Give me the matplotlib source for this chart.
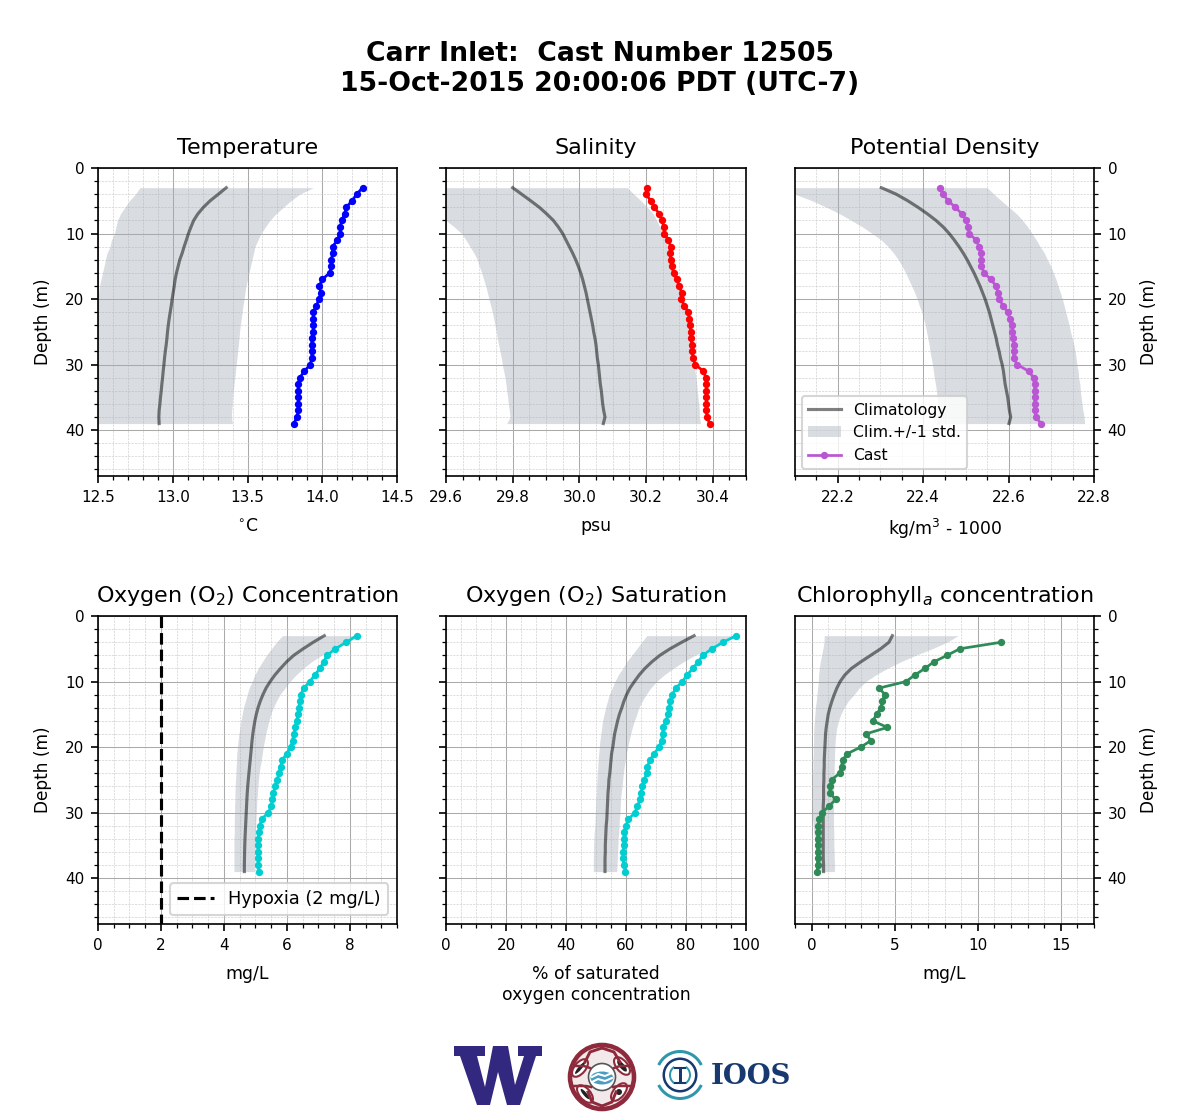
import matplotlib
matplotlib.use("Agg")
import matplotlib.pyplot as plt
from matplotlib.patches import Polygon, Circle, Wedge, Ellipse, Rectangle
from matplotlib.ticker import MultipleLocator

depth = [3, 4, 5, 6, 7, 8, 9, 10, 11, 12, 13, 14, 15, 16, 17, 18, 19, 20, 21,
         22, 23, 24, 25, 26, 27, 28, 29, 30, 31, 32, 33, 34, 35, 36, 37, 38, 39]

# temperature
temp_cast = [14.27, 14.23, 14.20, 14.16, 14.15, 14.13, 14.12, 14.12, 14.10, 14.07, 14.07, 14.06, 14.06,
             14.05, 14.00, 13.98, 13.99, 13.98, 13.96, 13.94, 13.94, 13.94, 13.94, 13.93, 13.93, 13.93,
             13.93, 13.92, 13.88, 13.85, 13.84, 13.84, 13.84, 13.84, 13.84, 13.83, 13.81]
temp_clim = [13.358, 13.305, 13.250, 13.205, 13.168, 13.140, 13.122, 13.105, 13.091, 13.076, 13.063, 13.047,
             13.036, 13.025, 13.016, 13.010, 13.003, 12.996, 12.990, 12.983, 12.976, 12.970, 12.965, 12.961,
             12.956, 12.950, 12.945, 12.941, 12.936, 12.932, 12.927, 12.923, 12.918, 12.914, 12.909, 12.907, 12.909]
temp_low = [12.78, 12.75, 12.71, 12.68, 12.65, 12.63, 12.62, 12.61, 12.59, 12.58, 12.56, 12.55, 12.54,
            12.53, 12.52, 12.51, 12.505, 12.50, 12.49, 12.49, 12.48, 12.48, 12.47, 12.47, 12.46, 12.46,
            12.45, 12.45, 12.44, 12.44, 12.43, 12.43, 12.42, 12.42, 12.42, 12.41, 12.41]
temp_high = [13.94, 13.85, 13.79, 13.74, 13.69, 13.65, 13.62, 13.59, 13.57, 13.55, 13.54, 13.53, 13.52,
             13.51, 13.50, 13.49, 13.483, 13.477, 13.47, 13.464, 13.458, 13.452, 13.447, 13.443, 13.439, 13.434,
             13.43, 13.424, 13.42, 13.415, 13.41, 13.405, 13.40, 13.398, 13.395, 13.392, 13.40]

# salinity
sal_cast = [30.204, 30.200, 30.214, 30.225, 30.240, 30.249, 30.253, 30.255, 30.267, 30.274, 30.273, 30.274,
            30.277, 30.283, 30.292, 30.300, 30.307, 30.306, 30.315, 30.327, 30.330, 30.332, 30.334, 30.335,
            30.338, 30.339, 30.341, 30.348, 30.372, 30.380, 30.381, 30.381, 30.381, 30.381, 30.381, 30.383, 30.391]
sal_clim = [29.800, 29.827, 29.854, 29.880, 29.902, 29.922, 29.937, 29.950, 29.960, 29.970, 29.980, 29.989,
            29.997, 30.004, 30.010, 30.015, 30.020, 30.024, 30.028, 30.032, 30.036, 30.040, 30.043, 30.047,
            30.050, 30.052, 30.054, 30.057, 30.059, 30.061, 30.063, 30.066, 30.068, 30.070, 30.073, 30.077, 30.072]
sal_low = [29.40, 29.45, 29.50, 29.54, 29.57, 29.60, 29.625, 29.647, 29.660, 29.672, 29.684, 29.694, 29.700,
           29.707, 29.713, 29.719, 29.724, 29.729, 29.734, 29.739, 29.743, 29.747, 29.751, 29.754, 29.758,
           29.762, 29.766, 29.769, 29.773, 29.777, 29.780, 29.782, 29.785, 29.787, 29.790, 29.792, 29.782]
sal_high = [30.144, 30.164, 30.185, 30.204, 30.222, 30.232, 30.242, 30.250, 30.258, 30.265, 30.272, 30.278,
            30.284, 30.290, 30.296, 30.301, 30.306, 30.311, 30.315, 30.319, 30.323, 30.327, 30.330, 30.333,
            30.336, 30.339, 30.342, 30.344, 30.347, 30.350, 30.352, 30.354, 30.356, 30.358, 30.360, 30.360, 30.364]

# potential density
dens_cast = [22.440, 22.446, 22.459, 22.475, 22.491, 22.501, 22.505, 22.508, 22.524, 22.531, 22.535, 22.536,
             22.536, 22.543, 22.558, 22.571, 22.575, 22.578, 22.587, 22.598, 22.603, 22.607, 22.609, 22.611,
             22.612, 22.612, 22.612, 22.620, 22.647, 22.659, 22.661, 22.661, 22.661, 22.661, 22.661, 22.664, 22.676]
dens_clim = [22.302, 22.337, 22.364, 22.388, 22.410, 22.430, 22.447, 22.461, 22.473, 22.484, 22.494, 22.503,
             22.511, 22.519, 22.526, 22.533, 22.539, 22.545, 22.550, 22.555, 22.559, 22.563, 22.567, 22.571,
             22.574, 22.578, 22.581, 22.585, 22.588, 22.590, 22.592, 22.595, 22.598, 22.600, 22.602, 22.605, 22.601]
dens_low = [22.08, 22.10, 22.14, 22.174, 22.205, 22.232, 22.258, 22.281, 22.302, 22.318, 22.331, 22.342,
            22.351, 22.359, 22.366, 22.373, 22.380, 22.386, 22.391, 22.397, 22.401, 22.405, 22.408, 22.411,
            22.414, 22.416, 22.419, 22.422, 22.424, 22.426, 22.429, 22.431, 22.433, 22.435, 22.436, 22.438, 22.430]
dens_high = [22.550, 22.566, 22.583, 22.601, 22.619, 22.633, 22.645, 22.655, 22.665, 22.674, 22.684, 22.691,
             22.699, 22.705, 22.711, 22.716, 22.721, 22.726, 22.730, 22.734, 22.738, 22.742, 22.745, 22.749,
             22.753, 22.756, 22.758, 22.760, 22.763, 22.764, 22.767, 22.768, 22.770, 22.772, 22.774, 22.777, 22.778]

# oxygen concentration
oxy_cast = [8.22, 7.89, 7.54, 7.28, 7.17, 7.05, 6.89, 6.73, 6.54, 6.44, 6.41, 6.38, 6.36, 6.31, 6.27, 6.22,
            6.18, 6.13, 5.99, 5.86, 5.80, 5.75, 5.69, 5.63, 5.57, 5.54, 5.51, 5.41, 5.20, 5.14, 5.11, 5.09,
            5.08, 5.08, 5.08, 5.09, 5.11]
oxy_clim = [7.19, 6.84, 6.52, 6.22, 5.99, 5.80, 5.62, 5.47, 5.34, 5.24, 5.155, 5.085, 5.03, 4.985, 4.95, 4.92,
            4.895, 4.875, 4.855, 4.835, 4.815, 4.795, 4.775, 4.757, 4.742, 4.73, 4.72, 4.71, 4.70, 4.69, 4.68, 4.67,
            4.663, 4.658, 4.654, 4.65, 4.65]
oxy_low = [5.86, 5.67, 5.51, 5.35, 5.22, 5.09, 4.98, 4.90, 4.80, 4.74, 4.68, 4.62, 4.58, 4.54, 4.51, 4.48,
           4.45, 4.43, 4.41, 4.40, 4.39, 4.38, 4.37, 4.36, 4.35, 4.35, 4.34, 4.34, 4.33, 4.33, 4.33, 4.32,
           4.32, 4.32, 4.32, 4.32, 4.32]
oxy_high = [8.42, 7.89, 7.47, 7.10, 6.78, 6.52, 6.29, 6.10, 5.94, 5.78, 5.67, 5.57, 5.49, 5.43, 5.38, 5.33,
            5.29, 5.25, 5.22, 5.19, 5.15, 5.12, 5.10, 5.08, 5.07, 5.05, 5.04, 5.03, 5.02, 5.01, 5.00, 5.00,
            4.99, 4.98, 4.98, 4.97, 4.97]

# oxygen saturation
sat_cast = [96.7, 92.4, 88.6, 85.6, 84.1, 82.2, 80.4, 78.8, 76.6, 75.4, 74.8, 74.4, 74.1, 73.3, 72.4, 72.2,
            71.9, 71.0, 69.4, 68.0, 67.1, 66.9, 66.1, 65.4, 65.1, 64.7, 63.8, 63.0, 60.8, 60.0, 59.4, 59.3,
            59.2, 59.1, 59.1, 59.2, 59.8]
sat_clim = [82.7, 78.6, 74.7, 71.3, 68.6, 66.3, 64.4, 62.8, 61.3, 60.2, 59.3, 58.6, 57.8, 57.2, 56.7, 56.2,
            55.9, 55.6, 55.2, 55.0, 54.8, 54.6, 54.3, 54.2, 54.0, 53.9, 53.8, 53.7, 53.6, 53.4, 53.3, 53.2,
            53.1, 53.1, 53.0, 53.0, 53.0]
sat_low = [66.9, 65.2, 63.6, 61.9, 60.2, 58.9, 57.4, 56.3, 55.4, 54.4, 53.8, 53.2, 52.7, 52.2, 51.9, 51.6,
           51.3, 51.1, 50.9, 50.7, 50.6, 50.4, 50.3, 50.2, 50.1, 50.0, 49.9, 49.8, 49.7, 49.6, 49.4, 49.3,
           49.2, 49.2, 49.1, 49.1, 49.1]
sat_high = [98.0, 92.4, 88.0, 83.0, 79.1, 75.8, 72.7, 70.2, 68.2, 66.7, 65.4, 64.3, 63.6, 62.8, 62.1, 61.6,
            61.0, 60.6, 60.1, 59.8, 59.4, 59.1, 58.9, 58.7, 58.4, 58.2, 58.1, 58.0, 57.8, 57.7, 57.6, 57.4,
            57.3, 57.2, 57.1, 57.0, 56.9]

# chlorophyll, the cast has no reading at 3 m
chl_cast = [float("nan"), 11.42, 8.92, 8.16, 7.36, 6.82, 6.22, 5.68, 4.06, 4.42, 4.26, 4.16, 3.92, 3.68, 4.56, 3.26,
            3.58, 2.96, 2.16, 1.86, 1.80, 1.68, 1.20, 1.12, 1.10, 1.44, 1.06, 0.62, 0.46, 0.40, 0.36, 0.36,
            0.36, 0.36, 0.36, 0.36, 0.34]
chl_clim = [4.86, 4.66, 4.16, 3.56, 2.96, 2.40, 2.00, 1.72, 1.52, 1.36, 1.22, 1.10, 1.00, 0.94, 0.88, 0.84,
            0.82, 0.80, 0.78, 0.76, 0.76, 0.74, 0.74, 0.72, 0.72, 0.72, 0.70, 0.70, 0.70, 0.70, 0.70, 0.70,
            0.70, 0.70, 0.70, 0.72, 0.72]
chl_low = [0.76, 0.74, 0.68, 0.60, 0.52, 0.46, 0.42, 0.40, 0.36, 0.32, 0.28, 0.22, 0.20, 0.16, 0.14, 0.12,
           0.12, 0.10, 0.10, 0.08, 0.08, 0.06, 0.06, 0.06, 0.04, 0.04, 0.02, 0.02, 0.06, 0.10, 0.14, 0.18,
           0.20, 0.22, 0.24, 0.25, 0.25]
chl_high = [8.82, 8.16, 7.26, 6.26, 5.36, 4.56, 3.86, 3.26, 2.86, 2.56, 2.20, 1.96, 1.76, 1.62, 1.52, 1.46,
            1.42, 1.40, 1.38, 1.38, 1.36, 1.36, 1.34, 1.34, 1.32, 1.32, 1.32, 1.32, 1.32, 1.32, 1.34, 1.34,
            1.34, 1.36, 1.36, 1.38, 1.38]

W, H = 1200, 1120
plt.rcParams["font.family"] = "DejaVu Sans"
fig = plt.figure(figsize=(W / 150, H / 150), dpi=150)


def make_axes(left, top, right, bottom):
    return fig.add_axes([left / W, 1 - bottom / H, (right - left) / W, (bottom - top) / H])


def draw_panel(ax, cast, clim, low, high, color, title, xlabel, xlim, major, minor, side):
    ax.set_axisbelow(True)
    ax.fill_betweenx(depth, low, high, color="#a2aab4", alpha=0.4, lw=0, label="Clim.+/-1 std.")
    ax.plot(clim, depth, color="k", alpha=0.5, lw=1.5, label="Climatology")
    ax.plot(cast, depth, color=color, lw=1.3, marker="o", ms=2.5, label="Cast")
    ax.set_xlim(xlim)
    ax.set_ylim(47, 0)
    ax.xaxis.set_major_locator(MultipleLocator(major))
    ax.xaxis.set_minor_locator(MultipleLocator(minor))
    ax.yaxis.set_major_locator(MultipleLocator(10))
    ax.yaxis.set_minor_locator(MultipleLocator(2))
    ax.grid(which="major", color="#aaaaaa", lw=0.5)
    ax.grid(which="minor", color="#cccccc", lw=0.3, ls="--")
    ax.tick_params(which="major", labelsize=7.3, length=3.5, width=0.8, pad=3)
    ax.tick_params(which="minor", length=2, width=0.6)
    ax.set_title(title, fontsize=10.7, pad=6.5)
    ax.set_xlabel(xlabel, fontsize=8.3, labelpad=6)
    if side == "left":
        ax.set_ylabel("Depth (m)", fontsize=8.2, labelpad=6.5)
    elif side == "right":
        ax.yaxis.tick_right()
        ax.yaxis.set_label_position("right")
        ax.set_ylabel("Depth (m)", fontsize=8.2, labelpad=6.5)
    else:
        ax.tick_params(axis="y", which="both", labelleft=False)
    for s in ax.spines.values():
        s.set_linewidth(0.8)


fig.suptitle("Carr Inlet:  Cast Number 12505\n15-Oct-2015 20:00:06 PDT (UTC-7)",
             fontsize=12.8, fontweight="bold", x=0.5, y=0.9638, va="top")

ax1 = make_axes(98, 168, 397, 476)
draw_panel(ax1, temp_cast, temp_clim, temp_low, temp_high, "blue", "Temperature", r"$^{\circ}$C",
           (12.5, 14.5), 0.5, 0.1, "left")
ax2 = make_axes(446, 168, 746, 476)
draw_panel(ax2, sal_cast, sal_clim, sal_low, sal_high, "red", "Salinity", "psu",
           (29.6, 30.5), 0.2, 0.05, "none")
ax3 = make_axes(795, 168, 1094, 476)
draw_panel(ax3, dens_cast, dens_clim, dens_low, dens_high, "mediumorchid", "Potential Density",
           r"kg/m$^3$ - 1000", (22.1, 22.8), 0.2, 0.05, "right")
handles, labels = ax3.get_legend_handles_labels()
order = [labels.index(n) for n in ("Climatology", "Clim.+/-1 std.", "Cast")]
ax3.legend([handles[i] for i in order], [labels[i] for i in order], loc="lower left",
           fontsize=7.5, borderaxespad=0.42, handlelength=2.1)

ax4 = make_axes(98, 616, 397, 924)
draw_panel(ax4, oxy_cast, oxy_clim, oxy_low, oxy_high, "darkturquoise", r"Oxygen (O$_2$) Concentration", "mg/L",
           (0, 9.5), 2, 0.5, "left")
hyp, = ax4.plot([2, 2], [0, 47], color="k", ls="--", lw=1.5, label="Hypoxia (2 mg/L)")
ax4.legend(handles=[hyp], loc="lower right", fontsize=8.5, borderaxespad=0.5, handlelength=2.1)

ax5 = make_axes(446, 616, 746, 924)
draw_panel(ax5, sat_cast, sat_clim, sat_low, sat_high, "darkturquoise", r"Oxygen (O$_2$) Saturation",
           "% of saturated\noxygen concentration", (0, 100), 20, 5, "none")
ax6 = make_axes(795, 616, 1094, 924)
draw_panel(ax6, chl_cast, chl_clim, chl_low, chl_high, "seagreen", r"Chlorophyll$_a$ concentration", "mg/L",
           (-1, 17), 5, 1, "right")

# logos, drawn in pixel coordinates of the figure
logo = fig.add_axes([0, 0, 1, 1], facecolor="none")
logo.set_xlim(0, W)
logo.set_ylim(H, 0)
logo.axis("off")

purple = "#33287f"
logo.add_patch(Polygon([(454, 1046), (485, 1046), (485, 1056), (477, 1056), (485, 1087), (493, 1046), (508, 1046),
                        (515, 1085), (524, 1056), (518, 1056), (518, 1046), (542, 1046), (542, 1056), (536, 1056),
                        (520, 1105), (507, 1105), (498, 1072), (490, 1105), (477, 1105), (460, 1056), (454, 1056)],
                       closed=True, fc=purple, ec="none"))

maroon = "#8e2a3c"
logo.add_patch(Circle((602, 1077), 32, fc="#f4e9ea", ec=maroon, lw=2.2))
# curved bands of the crest, drawn as lines from the rim to the centre
logo.plot([602, 590, 585], [1048, 1052, 1062], color=maroon, lw=1.4)
logo.plot([602, 614, 620], [1048, 1052, 1062], color=maroon, lw=1.4)
logo.plot([572, 584, 590], [1066, 1066, 1068], color=maroon, lw=1.2)
logo.plot([632, 620, 614], [1066, 1066, 1068], color=maroon, lw=1.2)
logo.plot([573, 586, 591], [1086, 1086, 1087], color=maroon, lw=1.2)
logo.plot([631, 618, 613], [1086, 1086, 1087], color=maroon, lw=1.2)
logo.plot([602, 592, 588], [1106, 1102, 1092], color=maroon, lw=1.4)
logo.plot([602, 612, 616], [1106, 1102, 1092], color=maroon, lw=1.4)
for cx, cy, ang in [(580, 1068, 40), (622, 1066, -40), (585, 1094, -40), (619, 1092, 40)]:
    logo.add_patch(Ellipse((cx, cy), 11, 21, angle=ang, fc="white", ec=maroon, lw=1.0))
logo.add_patch(Ellipse((580, 1068), 3.5, 15, angle=40, fc="#222222", ec="none"))
logo.add_patch(Ellipse((622, 1066), 5, 14, angle=-40, fc="#222222", ec="none"))
logo.add_patch(Ellipse((585, 1094), 3.5, 13, angle=-40, fc="#222222", ec="none"))
logo.add_patch(Circle((619, 1092), 3, fc="#222222", ec="none"))
logo.add_patch(Circle((602, 1077), 13.5, fc="white", ec="#555555", lw=0.8))
logo.add_patch(Ellipse((602, 1078), 23, 13, fc="#4a9cc4", ec="none"))
logo.plot([592, 598, 605, 612], [1077, 1074, 1076, 1073], color="white", lw=1)
logo.plot([592, 598, 605, 612], [1082, 1079, 1081, 1078], color="white", lw=1)

teal = "#2f97ab"
navy = "#17396f"
logo.add_patch(Wedge((680, 1075), 25, 205, 335, width=3, fc=teal, ec="none"))
logo.add_patch(Wedge((680, 1075), 25, 25, 155, width=3, fc=teal, ec="none"))
logo.add_patch(Wedge((680, 1075), 17.5, 0, 360, width=2.5, fc=navy, ec="none"))
logo.add_patch(Wedge((680, 1075), 11, 125, 235, width=2, fc=teal, ec="none"))
logo.add_patch(Wedge((680, 1075), 11, -55, 55, width=2, fc=teal, ec="none"))
logo.add_patch(Rectangle((678.5, 1067), 3, 16, fc=navy, ec="none"))
logo.plot([675, 685], [1067.5, 1067.5], color=navy, lw=1)
logo.plot([675, 685], [1082.5, 1082.5], color=navy, lw=1)
logo.text(751, 1076, "IOOS", color=navy, fontsize=13.2, fontweight="bold", family="DejaVu Serif",
          ha="center", va="center")

fig.savefig("out.png", dpi=150)
